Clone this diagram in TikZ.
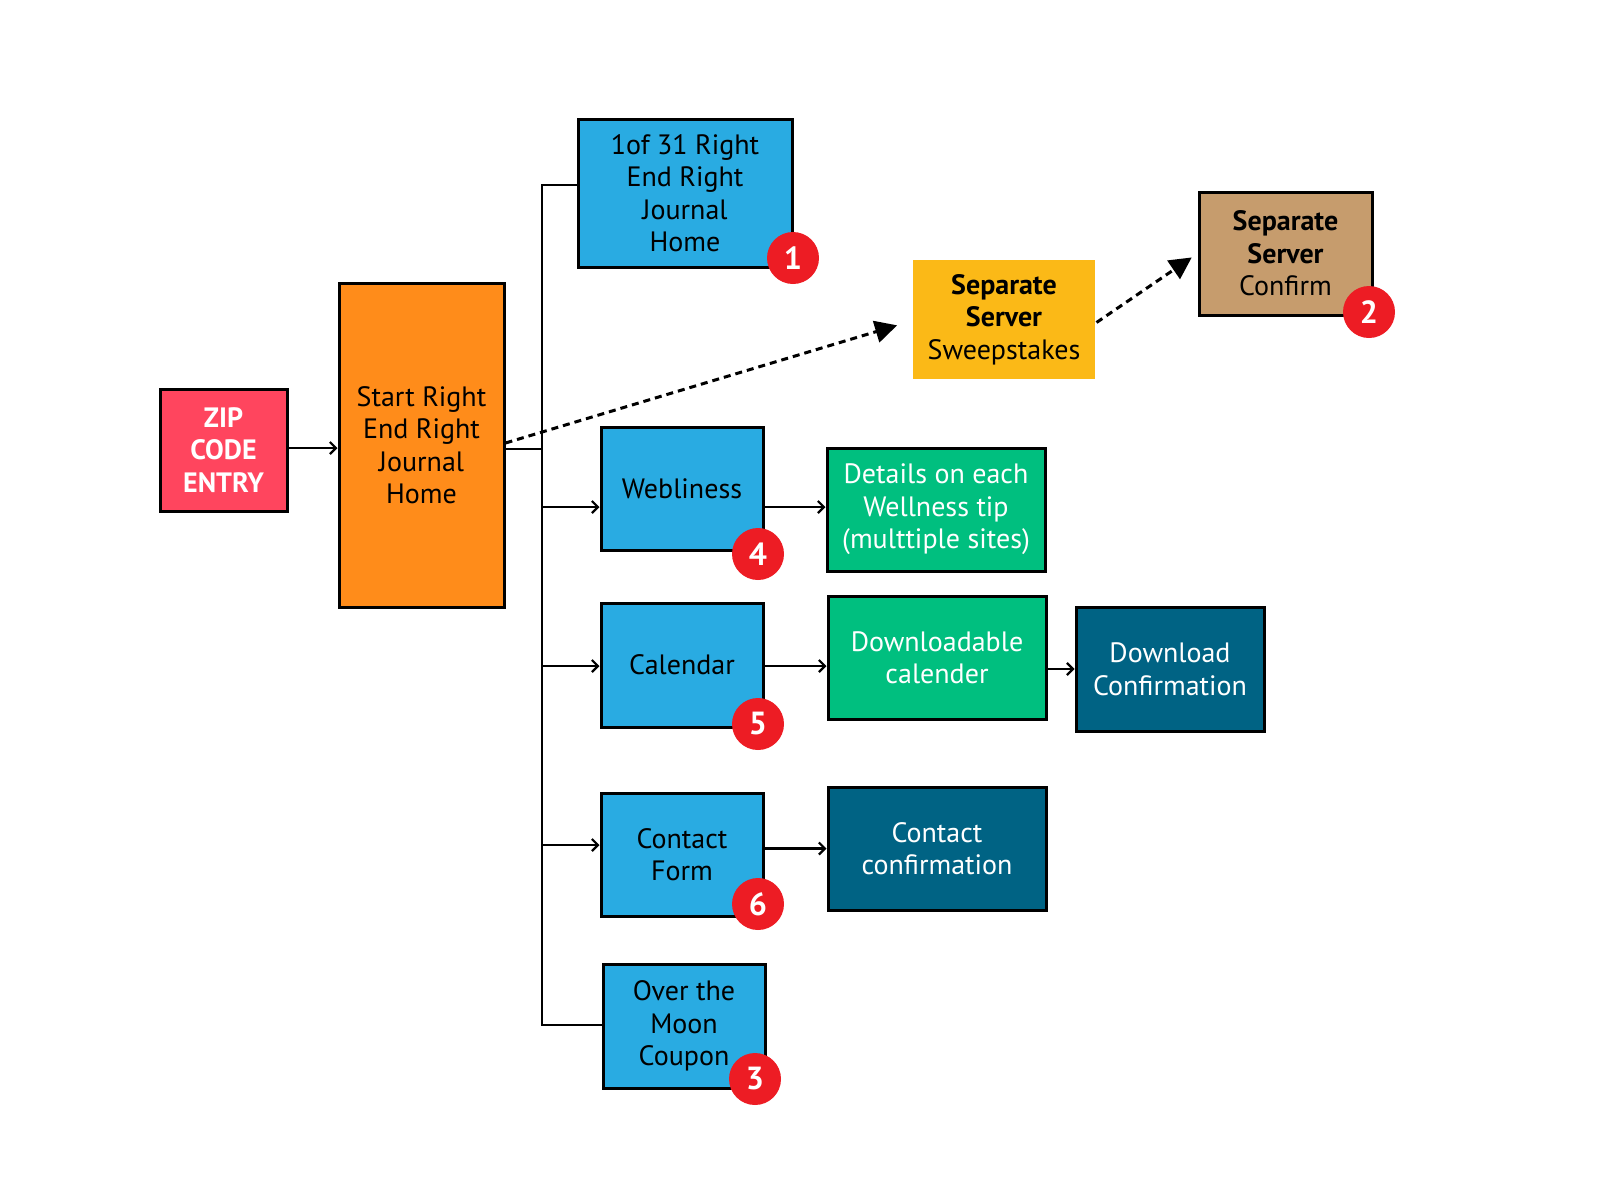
\documentclass[tikz,border=0pt]{standalone}
\usepackage{fontspec}
\setmainfont{PT Sans}
\usetikzlibrary{arrows.meta}

\definecolor{zipred}{RGB}{255,69,94}
\definecolor{homeorange}{RGB}{255,140,26}
\definecolor{pageblue}{RGB}{41,171,226}
\definecolor{sweepyellow}{RGB}{251,185,23}
\definecolor{confirmtan}{RGB}{198,156,109}
\definecolor{tipgreen}{RGB}{0,191,127}
\definecolor{doneteal}{RGB}{0,99,132}
\definecolor{badgered}{RGB}{237,28,36}

\begin{document}
\begin{tikzpicture}[x=1pt,y=-1pt,
		box/.style={draw=black,line width=3pt,align=center,inner sep=0pt,font=\fontsize{28}{32.5}\selectfont},
		badge/.style={circle,fill=badgered,text=white,minimum size=52pt,inner sep=0pt,font=\fontsize{32}{32}\selectfont\bfseries},
		flow/.style={line width=2.8pt,-{Straight Barb[length=6pt,width=12pt,line width=2.2pt]}},
		dotflow/.style={line width=3pt,dash pattern=on 7pt off 5pt,-{Triangle[length=22pt,width=22pt]}}]
		\useasboundingbox (0,0) rectangle (1600,1179);
		
		% Boxes
		\node[box,fill=zipred,text=white,font=\fontsize{28}{32.5}\selectfont\bfseries,minimum width=127pt,minimum height=122pt] (zip) at (223.5,450) {ZIP\\CODE\\ENTRY};
		\node[box,fill=homeorange,minimum width=165pt,minimum height=324pt] (home) at (421.5,445) {Start Right\\End Right\\Journal\\Home};
		\node[box,fill=pageblue,minimum width=214pt,minimum height=148pt] (journal) at (685,193) {1of 31 Right\\End Right\\Journal\\Home};
		\node[box,draw=none,fill=sweepyellow,minimum width=182pt,minimum height=119pt] (sweep) at (1004,319.5) {\textbf{Separate}\\\textbf{Server}\\Sweepstakes};
		\node[box,fill=confirmtan,minimum width=173pt,minimum height=123pt] (confirm) at (1285.5,253.5) {\textbf{Separate}\\\textbf{Server}\\Confirm};
		\node[box,fill=pageblue,minimum width=162pt,minimum height=123pt] (web) at (682,488.5) {Webliness};
		\node[box,fill=tipgreen,text=white,minimum width=218pt,minimum height=123pt] (details) at (936,509.5) {Details on each\\Wellness tip\\(multtiple sites)};
		\node[box,fill=pageblue,minimum width=162pt,minimum height=124pt] (cal) at (682,665) {Calendar};
		\node[box,fill=tipgreen,text=white,minimum width=218pt,minimum height=123pt] (dl) at (937,657.5) {Downloadable\\calender};
		\node[box,fill=doneteal,text=white,minimum width=188pt,minimum height=124pt] (dlconfirm) at (1170,669) {Download\\Confirmation};
		\node[box,fill=pageblue,minimum width=162pt,minimum height=123pt] (form) at (682,854.5) {Contact\\Form};
		\node[box,fill=doneteal,text=white,minimum width=218pt,minimum height=123pt] (formconfirm) at (937,848.5) {Contact\\confirmation};
		\node[box,fill=pageblue,minimum width=162pt,minimum height=124pt] (moon) at (684,1026) {Over the\\Moon\\Coupon};
		
		% Bus points
		\coordinate (bustop) at (542,185);
		\coordinate (busjoin) at (542,449);
		\coordinate (busweb) at (542,507);
		\coordinate (buscal) at (542,666);
		\coordinate (busform) at (542,845);
		\coordinate (busbottom) at (542,1025);
		
		% Connectors
		\draw[flow] (zip.east |- 0,448) -- (home.west |- 0,448);
		\draw[line width=2.8pt] (home.east |- busjoin) -- (busjoin);
		\draw[line width=2.8pt] (bustop -| journal.west) -- (bustop) -- (busbottom) -- (busbottom -| moon.west);
		\draw[flow] (busweb) -- (busweb -| web.west);
		\draw[flow] (buscal) -- (buscal -| cal.west);
		\draw[flow] (busform) -- (busform -| form.west);
		\draw[flow] (web.east |- busweb) -- (busweb -| details.west);
		\draw[flow] (cal.east |- buscal) -- (buscal -| dl.west);
		\draw[flow] (dl.east |- dlconfirm.west) -- (dlconfirm.west);
		\draw[flow] (form.east |- formconfirm.west) -- (formconfirm.west);
		\draw[dotflow,shorten >=15pt] ([yshift=2]home.east) -- ([yshift=-1.5]sweep.west);
		\draw[dotflow,shorten >=7pt] ([yshift=-3]sweep.east) -- (confirm.west);
		
		% Badges
		\node[badge] (badge1) at (793,258) {1};
		\node[badge] (badge2) at (1369,312) {2};
		\node[badge] (badge3) at (755,1079) {3};
		\node[badge] (badge4) at (758,554) {4};
		\node[badge] (badge5) at (758,724) {5};
		\node[badge] (badge6) at (758,904) {6};
	\end{tikzpicture}
\end{document}
